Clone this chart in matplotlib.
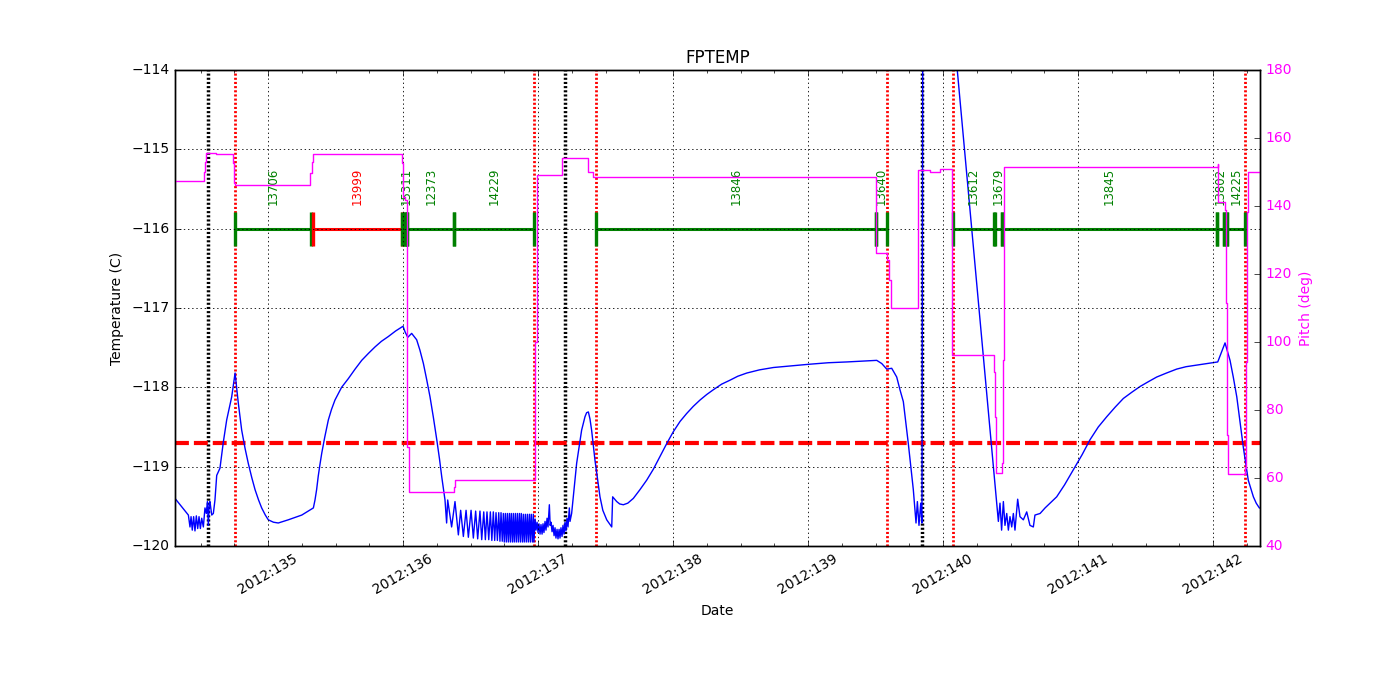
import matplotlib
matplotlib.use('Agg')
from matplotlib import pyplot as plt
from matplotlib.ticker import MultipleLocator, FuncFormatter

plt.style.use('classic')
plt.rcParams['font.size'] = 10

# FPTEMP (day of year 2012, deg C)
temp_days = [134.311, 134.410, 134.422, 134.430, 134.439, 134.449, 134.459, 134.469, 134.479, 134.489,
             134.499, 134.509, 134.521, 134.533, 134.543, 134.551, 134.558, 134.565, 134.570, 134.583,
             134.595, 134.607, 134.620, 134.644, 134.669, 134.694, 134.731, 134.756, 134.780, 134.805,
             134.830, 134.854, 134.880, 134.904, 134.930, 134.953, 134.980, 135.002, 135.040, 135.076,
             135.150, 135.250, 135.336, 135.348, 135.360, 135.372, 135.385, 135.398, 135.420, 135.447,
             135.470, 135.496, 135.545, 135.595, 135.645, 135.694, 135.745, 135.793, 135.840, 135.891,
             135.945, 136.000, 136.015, 136.035, 136.064, 136.101, 136.125, 136.151, 136.175, 136.200,
             136.225, 136.250, 136.270, 136.287, 136.311, 136.323,
             136.331, 136.360, 136.385, 136.410, 136.427, 136.447, 136.467, 136.484, 136.504, 136.521,
             136.538, 136.553, 136.570, 136.583, 136.598, 136.610, 136.622, 136.635, 136.647, 136.658,
             136.669, 136.679, 136.689, 136.699, 136.709, 136.718, 136.726, 136.735, 136.743,
             136.750, 136.758, 136.765, 136.773, 136.780, 136.788, 136.795, 136.802, 136.810, 136.817,
             136.824, 136.832, 136.839, 136.847, 136.854, 136.862, 136.869, 136.876, 136.884, 136.891,
             136.898, 136.906, 136.913, 136.921, 136.928, 136.936, 136.943, 136.950, 136.958, 136.965,
             136.970,
             136.978, 136.985, 136.993, 137.000, 137.007, 137.015, 137.022, 137.030, 137.037, 137.044,
             137.052, 137.059, 137.067, 137.074, 137.084, 137.090,
             137.096, 137.104, 137.111, 137.119, 137.126, 137.133, 137.141, 137.148, 137.156, 137.163,
             137.170, 137.178, 137.185, 137.193, 137.200, 137.207, 137.215, 137.222, 137.232, 137.237,
             137.249, 137.286, 137.323, 137.348, 137.360, 137.373, 137.385, 137.397, 137.422, 137.459,
             137.480, 137.509, 137.546, 137.553, 137.583, 137.605, 137.632, 137.665, 137.706, 137.755,
             137.805, 137.855, 137.904, 137.953, 138.002, 138.052, 138.101, 138.150, 138.200, 138.250,
             138.299, 138.360, 138.422, 138.480, 138.546, 138.640, 138.744, 138.870, 139.002, 139.150,
             139.287, 139.400, 139.509, 139.546, 139.583, 139.620, 139.657, 139.681, 139.706, 139.743,
             139.780, 139.800, 139.810, 139.822, 139.835, 139.844, 139.854,
             140.410, 140.422, 140.434, 140.447, 140.459, 140.472, 140.484, 140.496, 140.509, 140.521,
             140.533, 140.553, 140.570, 140.595, 140.620, 140.644, 140.669, 140.681, 140.719, 140.756,
             140.793, 140.842, 140.900, 140.965, 141.030, 141.089, 141.150, 141.213, 141.275, 141.336,
             141.400, 141.459, 141.520, 141.583, 141.655, 141.731, 141.800, 141.879, 141.960, 142.035,
             142.089, 142.126, 142.150, 142.176, 142.200, 142.224, 142.245, 142.261, 142.299, 142.320,
             142.343]
temp_vals = [-119.40, -119.61, -119.76, -119.63, -119.80, -119.63, -119.81, -119.62, -119.78, -119.63,
             -119.78, -119.65, -119.76, -119.52, -119.59, -119.44, -119.74, -119.46, -119.44, -119.61,
             -119.59, -119.42, -119.11, -119.02, -118.69, -118.41, -118.12, -117.82, -118.20, -118.54,
             -118.77, -118.96, -119.14, -119.29, -119.42, -119.52, -119.61, -119.67, -119.70, -119.71,
             -119.67, -119.61, -119.52, -119.42, -119.29, -119.12, -118.97, -118.83, -118.63, -118.41,
             -118.28, -118.16, -118.00, -117.89, -117.77, -117.66, -117.57, -117.49, -117.42, -117.36,
             -117.29, -117.23, -117.30, -117.37, -117.32, -117.40, -117.53, -117.70, -117.90, -118.12,
             -118.38, -118.66, -118.90, -119.13, -119.42, -119.71,
             -119.42, -119.76, -119.44, -119.86, -119.55, -119.88, -119.55, -119.89, -119.55, -119.90,
             -119.56, -119.91, -119.56, -119.92, -119.57, -119.92, -119.57, -119.92, -119.57, -119.93,
             -119.57, -119.93, -119.58, -119.93, -119.58, -119.94, -119.58, -119.94, -119.59,
             -119.95, -119.59, -119.95, -119.59, -119.95, -119.59, -119.95, -119.59, -119.95, -119.59,
             -119.95, -119.59, -119.95, -119.59, -119.95, -119.59, -119.95, -119.59, -119.95, -119.60,
             -119.95, -119.60, -119.95, -119.60, -119.95, -119.60, -119.95, -119.60, -119.95, -119.60,
             -119.95,
             -119.66, -119.80, -119.70, -119.83, -119.72, -119.85, -119.73, -119.85, -119.72, -119.83,
             -119.69, -119.80, -119.65, -119.76, -119.48, -119.74,
             -119.70, -119.82, -119.74, -119.87, -119.77, -119.90, -119.79, -119.91, -119.79, -119.90,
             -119.77, -119.88, -119.74, -119.85, -119.70, -119.81, -119.65, -119.76, -119.52, -119.69,
             -119.59, -118.96, -118.54, -118.37, -118.32, -118.31, -118.40, -118.54, -118.92, -119.38,
             -119.55, -119.67, -119.76, -119.38, -119.44, -119.47, -119.48, -119.46, -119.40, -119.29,
             -119.17, -119.03, -118.87, -118.71, -118.56, -118.43, -118.33, -118.24, -118.16, -118.09,
             -118.03, -117.96, -117.91, -117.86, -117.82, -117.78, -117.75, -117.73, -117.71, -117.69,
             -117.68, -117.67, -117.66, -117.70, -117.77, -117.76, -117.87, -118.03, -118.18, -118.71,
             -119.29, -119.71, -119.44, -119.74, -119.46, -119.71, -109.30,
             -119.69, -119.46, -119.80, -119.44, -119.74, -119.59, -119.80, -119.63, -119.76, -119.59,
             -119.80, -119.41, -119.63, -119.67, -119.57, -119.74, -119.76, -119.61, -119.59, -119.52,
             -119.46, -119.38, -119.23, -119.04, -118.85, -118.66, -118.50, -118.37, -118.25, -118.14,
             -118.06, -117.99, -117.93, -117.87, -117.82, -117.77, -117.74, -117.72, -117.70, -117.68,
             -117.44, -117.66, -117.87, -118.12, -118.43, -118.75, -118.99, -119.17, -119.38, -119.46,
             -119.52]

# pitch (deg), value holds from each time until the next
pitch_days = [134.311, 134.528, 134.533, 134.541, 134.613, 134.743, 134.748, 134.756, 135.311, 135.324,
              135.331, 135.990, 136.000, 136.015, 136.026, 136.032, 136.048, 136.380, 136.385, 136.974,
              136.981, 136.989, 137.176, 137.181, 137.373, 137.407, 139.504, 139.507, 139.587, 139.602,
              139.613, 139.813, 139.817, 139.904, 139.978, 140.064, 140.380, 140.383, 140.393, 140.435,
              140.447, 140.454, 142.035, 142.037, 142.089, 142.096, 142.106, 142.113, 142.237, 142.242,
              142.254, 142.261, 142.348]
pitch_vals = [147.4, 150.1, 153.0, 155.7, 155.2, 152.6, 146.7, 146.2, 149.6, 153.0,
              155.2, 152.6, 142.7, 141.8, 112.0, 69.1, 55.9, 57.5, 59.4, 73.1,
              100.0, 149.1, 152.0, 154.0, 150.1, 148.6, 142.9, 126.1, 124.1, 118.2,
              109.9, 137.8, 150.6, 150.1, 150.9, 96.2, 91.3, 78.0, 61.4, 64.3,
              94.7, 151.4, 152.5, 141.3, 138.8, 111.4, 72.6, 61.1, 62.8, 94.2,
              138.3, 149.9, 149.9]

# observations
obs_start = [134.756, 135.333, 135.990, 136.015, 136.032, 136.380, 137.430, 139.504, 140.074, 140.385,
             140.439, 142.027, 142.084, 142.104]
obs_stop = [135.319, 135.990, 136.015, 136.032, 136.380, 136.970, 139.504, 139.585, 140.374, 140.439,
            142.027, 142.084, 142.104, 142.237]
obs_ids = ['13706', '13999', '', '15311', '12373', '14229', '13846', '13640', '13612', '13679',
           '13845', '13802', '', '14225']
obs_colors = ['g', 'r', 'g', 'g', 'g', 'g', 'g', 'g', 'g', 'g', 'g', 'g', 'g', 'g']

red_lines = [134.756, 136.970, 137.430, 139.585, 140.074, 142.237]
black_lines = [134.556, 137.200, 139.844]
temp_limit = -118.7
bar_level = -116.0
label_level = -115.7

assert len(temp_days) == len(temp_vals)
assert len(pitch_days) == len(pitch_vals)

MAGENTA = '#ff00ff'

fig, ax = plt.subplots(figsize=(14, 7), dpi=100, facecolor='w')
fig.subplots_adjust(left=0.125, right=0.9, top=0.9, bottom=0.22)

for d in red_lines:
    ax.axvline(d, color='r', linestyle=(0, (1.5, 1.5)), lw=2)
for d in black_lines:
    ax.axvline(d, color='k', linestyle=(0, (1.5, 1.5)), lw=2.5)
ax.axhline(temp_limit, color='r', linestyle=(0, (10, 3.6)), lw=3)
ax.plot(temp_days, temp_vals, color='b', lw=1)

for t0, t1, oid, c in zip(obs_start, obs_stop, obs_ids, obs_colors):
    ax.plot([t0, t1], [bar_level, bar_level], color=c, lw=2.2,
            marker='|', ms=24, mew=2.4, mec=c)
    if oid:
        ax.text((t0 + t1) / 2, label_level, oid, rotation=90, ha='center', va='bottom',
                color=c, fontsize=8.5)

ax.set_xlim(134.311, 142.348)
ax.set_ylim(-120, -114)
ax.xaxis.set_major_locator(MultipleLocator(1))
ax.xaxis.set_minor_locator(MultipleLocator(0.25))
ax.xaxis.set_major_formatter(FuncFormatter(lambda x, pos: '2012:%03d' % int(round(x))))
for lbl in ax.get_xticklabels():
    lbl.set_rotation(30)
    lbl.set_ha('center')
ax.grid(True, color='k', linestyle=(0, (1, 2)), lw=0.6)
ax.set_xlabel('Date')
ax.set_ylabel('Temperature (C)')
ax.set_title('FPTEMP', fontsize=12)

ax2 = ax.twinx()
ax2.step(pitch_days, pitch_vals, where='post', color=MAGENTA, lw=1)
ax2.set_ylim(40, 180)
ax2.set_ylabel('Pitch (deg)', color=MAGENTA)
ax2.tick_params(axis='y', labelcolor=MAGENTA)
ax2.set_xlim(134.311, 142.348)

fig.savefig('out.png', dpi=100, facecolor='w')
